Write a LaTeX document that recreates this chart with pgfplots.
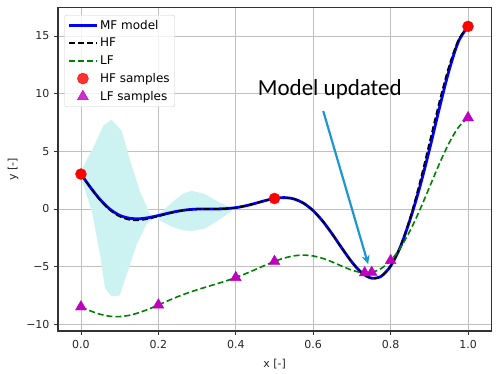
\documentclass[border=0pt]{standalone}
\usepackage{pgfplots}
\pgfplotsset{compat=1.18}
\usepgfplotslibrary{fillbetween}
\usetikzlibrary{arrows.meta}
\usepackage{fontspec}
\setmainfont{DejaVu Sans}
\newfontfamily\calibri{Carlito}
\definecolor{bandc}{RGB}{204,242,242}
\definecolor{arrowc}{RGB}{30,150,210}
\definecolor{lfgreen}{RGB}{0,128,0}
\definecolor{lfmag}{RGB}{191,0,191}
\definecolor{spine}{RGB}{50,50,50}
\definecolor{gridc}{RGB}{192,192,192}
\begin{document}
\begin{tikzpicture}
\begin{axis}[
 at={(0pt,0pt)}, anchor=south west,
 scale only axis, width=433.4pt, height=323.4pt,
 xmin=-0.0593, xmax=1.0604, ymin=-10.58, ymax=17.46,
 xtick={0,0.2,0.4,0.6,0.8,1.0}, xticklabels={0.0,0.2,0.4,0.6,0.8,1.0},
 ytick={-10,-5,0,5,10,15}, yticklabels={−10,−5,0,5,10,15},
 tick align=outside, tick pos=left, major tick length=3.5pt,
 every tick/.style={spine, line width=0.9pt},
 axis line style={spine, line width=1.1pt},
 grid=major, grid style={gridc, line width=0.9pt},
 tick label style={font=\fontsize{11}{13}\selectfont, text=black!85},
 xticklabel style={yshift=-2.5pt},
 yticklabel style={xshift=-1.5pt},
 xlabel={x [-]}, ylabel={y [-]},
 label style={font=\fontsize{11}{13}\selectfont, text=black!85},
 xlabel style={at={(axis description cs:0.5,-0.1021)}, anchor=center},
 ylabel style={at={(axis description cs:-0.1038,0.5)}, anchor=center},
 legend style={at={(0.015,0.977)}, anchor=north west, draw=gray!40, rounded corners=2pt,
   fill=white, fill opacity=0.8, text opacity=1, font=\fontsize{12}{14}\selectfont,
   row sep=3.3pt, inner xsep=3pt, inner ysep=3pt},
 legend cell align=left,
 legend image code/.code={\draw[mark repeat=2,mark phase=2,#1] plot coordinates {(0pt,0pt) (13.8pt,0pt) (27.6pt,0pt)};},
]
\addplot[draw=none, name path=up, forget plot] coordinates {
(0,3.3) (0.032,5.35) (0.058,7.24) (0.079,7.74) (0.105,6.8) (0.127,4.19) (0.152,1.57) (0.178,-0.43) (0.19,-0.6)
(0.21,-0.2) (0.24,0.7) (0.265,1.35) (0.286,1.57) (0.32,1.3) (0.35,0.7) (0.38,0.25) (0.40,0.12)};
\addplot[draw=none, name path=lo, forget plot] coordinates {
(0,2.73) (0.028,-0.17) (0.049,-3.9) (0.062,-6.86) (0.079,-7.58) (0.10,-7.5) (0.118,-5.7) (0.144,-3.05) (0.17,-1.3) (0.19,-0.7)
(0.21,-1.1) (0.24,-1.6) (0.265,-1.85) (0.286,-1.91) (0.32,-1.7) (0.35,-1.1) (0.38,-0.4) (0.40,0.1)};
\addplot[bandc, forget plot] fill between[of=up and lo];
\addplot[blue, line width=2.8pt, smooth] coordinates {
(0,3.027) (0.025,1.85) (0.05,0.80) (0.075,-0.02) (0.1,-0.55) (0.125,-0.80) (0.15,-0.85) (0.175,-0.75)
(0.2,-0.57) (0.225,-0.37) (0.25,-0.19) (0.275,-0.07) (0.3,-0.01) (0.325,0.0) (0.35,0.002) (0.375,0.030)
(0.4,0.115) (0.425,0.270) (0.45,0.483) (0.475,0.717) (0.5,0.909) (0.525,0.986) (0.55,0.871) (0.575,0.503)
(0.6,-0.149) (0.625,-1.074) (0.65,-2.209) (0.675,-3.439) (0.7,-4.606) (0.725,-5.522) (0.75,-5.993)
(0.775,-5.845) (0.8,-4.949) (0.825,-3.30) (0.85,-0.95) (0.875,1.85) (0.9,5.1) (0.925,8.6) (0.95,11.9)
(0.975,14.5) (1.0,15.83)};
\addlegendentry{MF model}
\addplot[black, line width=1.6pt, dash pattern=on 6pt off 3pt, smooth] coordinates {
(0,3.027) (0.025,1.813) (0.05,0.738) (0.075,-0.100) (0.1,-0.657) (0.125,-0.935) (0.15,-0.978) (0.175,-0.854)
(0.2,-0.640) (0.225,-0.407) (0.25,-0.210) (0.275,-0.079) (0.3,-0.016) (0.325,0.0) (0.35,0.002) (0.375,0.030)
(0.4,0.115) (0.425,0.270) (0.45,0.483) (0.475,0.717) (0.5,0.909) (0.525,0.986) (0.55,0.871) (0.575,0.503)
(0.6,-0.149) (0.625,-1.074) (0.65,-2.209) (0.675,-3.439) (0.7,-4.606) (0.725,-5.522) (0.75,-5.993)
(0.775,-5.845) (0.8,-4.949) (0.825,-3.254) (0.85,-0.799) (0.875,2.272) (0.9,5.712) (0.925,9.187) (0.95,12.303)
(0.975,14.648) (1.0,15.830)};
\addlegendentry{HF}
\addplot[lfgreen, line width=1.6pt, dash pattern=on 6pt off 3pt, smooth] coordinates {
(0,-8.486) (0.025,-8.844) (0.05,-9.131) (0.075,-9.300) (0.1,-9.329) (0.125,-9.218) (0.15,-8.989) (0.175,-8.677)
(0.2,-8.320) (0.225,-7.954) (0.25,-7.605) (0.275,-7.289) (0.3,-7.008) (0.325,-6.750) (0.35,-6.499) (0.375,-6.235)
(0.4,-5.943) (0.425,-5.615) (0.45,-5.259) (0.475,-4.892) (0.5,-4.545) (0.525,-4.257) (0.55,-4.064) (0.575,-3.998)
(0.6,-4.075) (0.625,-4.287) (0.65,-4.605) (0.675,-4.970) (0.7,-5.303) (0.725,-5.511) (0.75,-5.497)
(0.775,-5.173) (0.8,-4.475) (0.825,-3.377) (0.85,-1.900) (0.875,-0.114) (0.9,1.856) (0.925,3.844) (0.95,5.652)
(0.975,7.074) (1.0,7.915)};
\addlegendentry{LF}
\addplot[only marks, mark=*, mark size=5.5pt, red, mark options={draw=red}] coordinates {
(0,3.027) (0.5,0.909) (1.0,15.83)};
\addlegendentry{HF samples}
\addplot[only marks, mark=triangle*, mark size=6.3pt, lfmag, mark options={draw=lfmag}] coordinates {
(0,-8.486) (0.2,-8.32) (0.4,-5.943) (0.5,-4.545) (0.733,-5.535) (0.751,-5.497) (0.8,-4.475) (1.0,7.915)};
\addlegendentry{LF samples}
\draw[arrowc, line width=2.2pt, -{Stealth[length=9pt,width=8pt]}] (axis cs:0.626,8.49) -- (axis cs:0.742,-4.79);
\node[font=\calibri\fontsize{23}{27}\selectfont, anchor=base, inner sep=0pt] at (axis cs:0.643,9.86) {Model updated};
\end{axis}
\pgfresetboundingbox
\path (-58pt,-42pt) rectangle (439pt,331pt);
\end{tikzpicture}
\end{document}
